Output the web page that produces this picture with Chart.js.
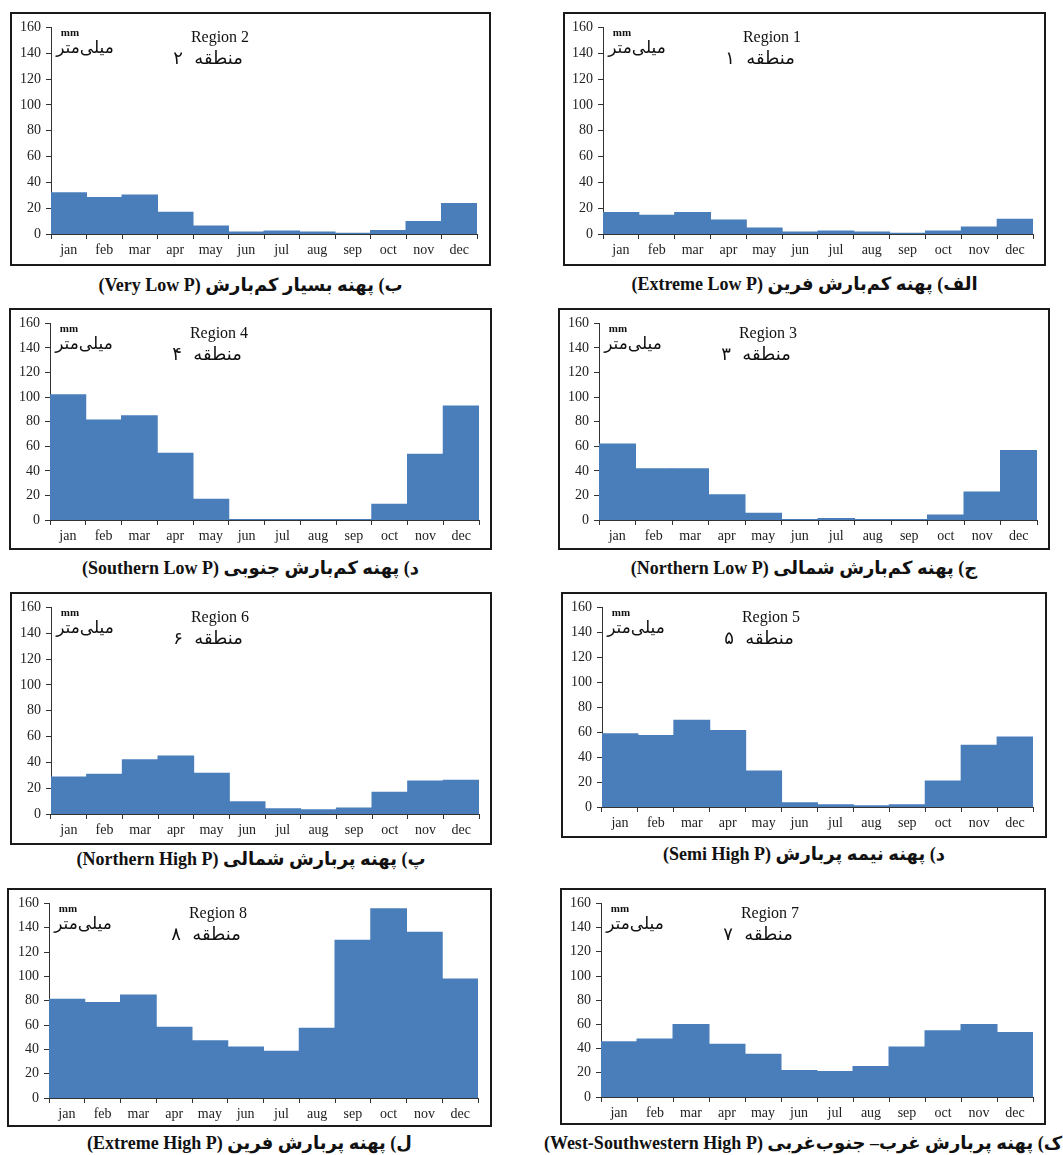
<!DOCTYPE html>
<html>
<head>
<meta charset="utf-8">
<script src="https://cdn.jsdelivr.net/npm/chart.js@4.4.0/dist/chart.umd.min.js"></script>
<style>
body{margin:0;background:#fff;width:1063px;height:1155px;position:relative;overflow:hidden}
.box{position:absolute;border:2px solid #1a1a1a;box-sizing:border-box;background:#fff}
.box canvas{display:block}
.cap{position:absolute;font:bold 18px 'Liberation Serif','DejaVu Sans',serif;white-space:nowrap;transform:translate(-50%,-50%);color:#111}
</style>
</head>
<body>
<script>
var meses = ['jan', 'feb', 'mar', 'apr', 'may', 'jun', 'jul', 'aug', 'sep', 'oct', 'nov', 'dec'];
var eixoY = [0, 20, 40, 60, 80, 100, 120, 140, 160];

// precipitacao mensal (mm) de cada regiao
var regiao1 = [16.7, 14.6, 16.7, 10.8, 4.6, 1.5, 2.3, 1.5, 0.5, 2.3, 5.4, 11.5];
var regiao2 = [32.0, 28.2, 30.3, 16.9, 6.2, 1.5, 2.3, 1.5, 0.5, 2.8, 9.7, 23.6];
var regiao3 = [61.9, 41.8, 41.8, 20.6, 5.4, 0.5, 1.3, 0.5, 0.5, 4.0, 22.8, 56.6];
var regiao4 = [101.9, 81.3, 84.8, 54.3, 16.8, 0.5, 0.5, 0.5, 0.5, 12.8, 53.5, 92.8];
var regiao5 = [58.7, 57.4, 69.6, 61.4, 28.8, 3.4, 1.9, 1.1, 1.9, 20.9, 49.5, 56.1];
var regiao6 = [28.7, 30.8, 42.1, 44.9, 31.5, 9.5, 4.1, 3.3, 4.6, 16.9, 25.6, 26.2];
var regiao7 = [45.7, 47.9, 59.9, 43.5, 35.4, 21.8, 21.0, 25.3, 41.4, 54.7, 59.9, 53.3];
var regiao8 = [81.1, 78.6, 84.6, 58.1, 47.0, 41.9, 38.4, 57.3, 129.7, 155.7, 136.2, 97.8];

var numeros = ['1', '2', '3', '4', '5', '6', '7', '8'];
var numerosFa = ['۱', '۲', '۳', '۴', '۵', '۶', '۷', '۸'];
var legendas = [
    'الف) پهنه کم‌بارش فرین (Extreme Low P)',
    'ب) پهنه بسیار کم‌بارش (Very Low P)',
    'ج) پهنه کم‌بارش شمالی (Northern Low P)',
    'د) پهنه کم‌بارش جنوبی (Southern Low P)',
    'د) پهنه نیمه پربارش (Semi High P)',
    'پ) پهنه پربارش شمالی (Northern High P)',
    'ک) پهنه پربارش غرب– جنوب‌غربی (West-Southwestern High P)',
    'ل) پهنه پربارش فرین (Extreme High P)'
];

// posicao de cada quadro: [x, y, largura, altura], area do grafico [esq, dir, topo, base], y da legenda
var quadros = [
    {box: [563, 12, 483, 254], area: [603, 1033, 26, 234], capY: 284},
    {box: [10, 12, 481, 254], area: [51, 477, 26, 234], capY: 285},
    {box: [558, 308, 492, 242], area: [599, 1037, 321, 520], capY: 568},
    {box: [9, 308, 483, 242], area: [50, 479, 321, 520], capY: 568},
    {box: [561, 592, 486, 246], area: [602, 1033, 606, 807], capY: 854},
    {box: [10, 592, 482, 253], area: [51, 479, 606, 814], capY: 859},
    {box: [560, 888, 486, 237], area: [601, 1033, 900, 1097], capY: 1143},
    {box: [7, 888, 485, 239], area: [49, 478, 900, 1098], capY: 1143}
];
var dadosRegioes = [regiao1, regiao2, regiao3, regiao4, regiao5, regiao6, regiao7, regiao8];

var textosPlugin = {
    id: 'textos',
    afterDraw: function (chart, args, opts) {
        var ctx = chart.ctx;
        var a = chart.chartArea;
        ctx.save();
        ctx.fillStyle = '#111';
        ctx.textBaseline = 'middle';
        ctx.textAlign = 'center';
        ctx.font = 'bold 11px "Liberation Serif"';
        ctx.fillText('mm', a.left + 19, a.top + 6);
        ctx.direction = 'rtl';
        ctx.font = '17px "DejaVu Sans"';
        ctx.fillText('میلی‌متر', a.left + 34, a.top + 21);
        ctx.direction = 'ltr';
        ctx.font = '16px "Liberation Serif"';
        ctx.fillText('Region ' + opts.numero, a.left + 169, a.top + 10);
        ctx.direction = 'rtl';
        ctx.font = '18px "DejaVu Sans"';
        ctx.fillText('منطقه  ' + opts.numeroFa, a.left + 157, a.top + 32);
        ctx.restore();
    }
};

function desenharPainel(i) {
    var q = quadros[i];
    var div = document.createElement('div');
    div.className = 'box';
    div.style.left = q.box[0] + 'px';
    div.style.top = q.box[1] + 'px';
    div.style.width = q.box[2] + 'px';
    div.style.height = q.box[3] + 'px';
    var canvas = document.createElement('canvas');
    var w = q.box[2] - 4, h = q.box[3] - 4;
    canvas.width = w;
    canvas.height = h;
    canvas.style.width = w + 'px';
    canvas.style.height = h + 'px';
    div.appendChild(canvas);
    document.body.appendChild(div);

    var larguraY = q.area[0] - (q.box[0] + 2);
    var alturaX = (q.box[1] + q.box[3] - 2) - q.area[3];
    var padTopo = q.area[2] - (q.box[1] + 2);
    var padDir = (q.box[0] + q.box[2] - 2) - q.area[1];

    var fonteEixo = {family: 'Liberation Serif', size: 14};

    new Chart(canvas, {
        type: 'bar',
        data: {
            labels: meses,
            datasets: [{
                data: dadosRegioes[i],
                backgroundColor: '#4a7ebb',
                borderWidth: 0,
                inflateAmount: 0.5,
                categoryPercentage: 1,
                barPercentage: 1
            }]
        },
        options: {
            responsive: false,
            animation: false,
            layout: {padding: {top: padTopo, right: padDir, left: 0, bottom: 0}},
            plugins: {
                legend: {display: false},
                tooltip: {enabled: false},
                textos: {numero: numeros[i], numeroFa: numerosFa[i]}
            },
            scales: {
                x: {
                    offset: true,
                    grid: {offset: true, drawOnChartArea: false, drawTicks: true, tickLength: 5, color: '#333'},
                    border: {display: true, color: '#333'},
                    ticks: {color: '#222', font: fonteEixo, padding: 3, maxRotation: 0},
                    afterFit: function (s) { s.height = alturaX; }
                },
                y: {
                    min: 0,
                    max: 160,
                    afterBuildTicks: function (s) { s.ticks = eixoY.map(function (v) { return {value: v}; }); },
                    grid: {drawOnChartArea: false, drawTicks: true, tickLength: 5, color: '#333'},
                    border: {display: true, color: '#333'},
                    ticks: {color: '#222', font: fonteEixo, padding: 5},
                    afterFit: function (s) { s.width = larguraY; }
                }
            }
        },
        plugins: [textosPlugin]
    });

    var cap = document.createElement('div');
    cap.className = 'cap';
    cap.dir = 'rtl';
    cap.textContent = legendas[i];
    cap.style.left = (q.box[0] + q.box[2] / 2) + 'px';
    cap.style.top = q.capY + 'px';
    document.body.appendChild(cap);
}

for (var i = 0; i < quadros.length; i++) {
    desenharPainel(i);
}
</script>
</body>
</html>
